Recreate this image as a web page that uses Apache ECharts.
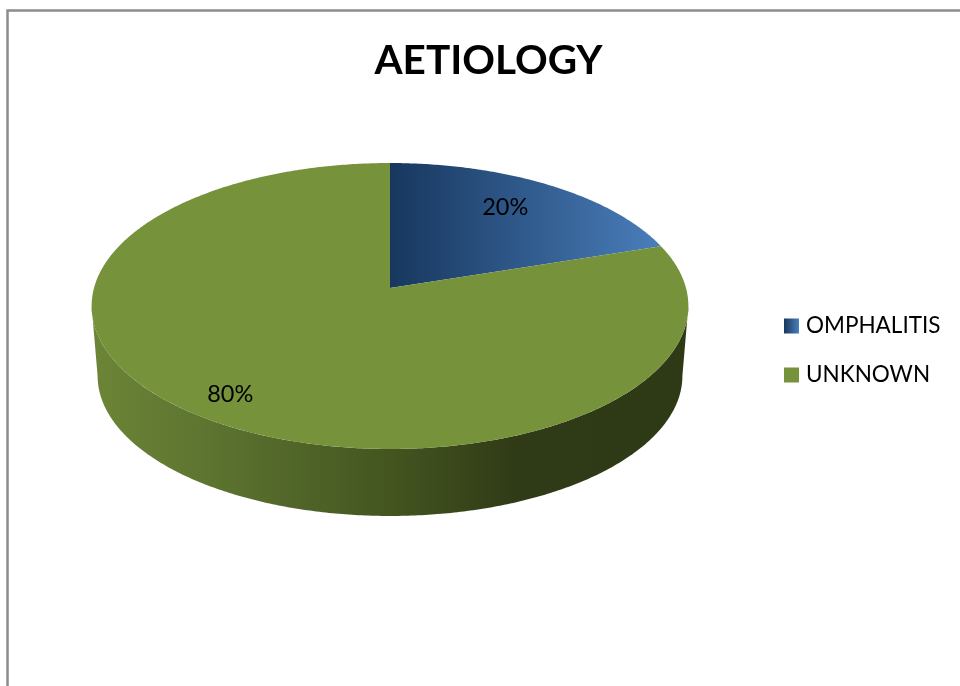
<!DOCTYPE html>
<html>
<head>
<meta charset="utf-8">
<style>html,body{margin:0;padding:0;background:#fff}#c{width:960px;height:686px}</style>
<script src="https://cdn.jsdelivr.net/npm/echarts@6/dist/echarts.min.js"></script>
</head>
<body>
<div id="c"></div>
<script>
const titleText = 'AETIOLOGY';
const categories = ['OMPHALITIS', 'UNKNOWN'];
const values = [20, 80];

const FONT = 'Lato, Carlito, "Open Sans", sans-serif';
// Tilted-disc projection (apex, axes, perspective, extrusion)
const cx = 390, cy = 288, bx = 296, ay = 140.7, k = 0.1259;
const depth = { scale: 0.98, drop: 70.2 };
const labelPlace = [{ r: 0.71, dy: -5 }, { r: 0.84, dy: 2 }];

const total = values.reduce((a, b) => a + b, 0);
const TAU = Math.PI * 2;
function proj(theta, r) {
  const X = Math.sin(theta) * r, Y = Math.cos(theta) * r, d = 1 + k * Y;
  return [cx + bx * X / d, cy - ay * Y / d];
}
function lower(p) {
  return [cx + depth.scale * (p[0] - cx), cy + depth.drop + depth.scale * (p[1] - cy)];
}
function arc(a0, a1) {
  const n = Math.max(2, Math.ceil((a1 - a0) / 0.01)), pts = [];
  for (let i = 0; i <= n; i++) pts.push(proj(a0 + (a1 - a0) * i / n, 1));
  return pts;
}
const visFrom = Math.acos(-k), visTo = TAU - visFrom;

const topFills = [
  { type: 'linear', x: cx, y: 0, x2: cx + 272, y2: 0, global: true,
    colorStops: [{ offset: 0, color: '#17375e' }, { offset: 1, color: '#4a7ebb' }] },
  '#76923b'
];
const legendFills = [
  { type: 'linear', x: 0, y: 0, x2: 1, y2: 0,
    colorStops: [{ offset: 0, color: '#17375e' }, { offset: 1, color: '#4a7ebb' }] },
  '#76923b'
];
const sideFill = { type: 'linear', x: 91, y: 0, x2: 688, y2: 0, global: true,
  colorStops: [
    { offset: 0, color: '#6c8536' }, { offset: 0.2, color: '#5c7430' },
    { offset: 0.5, color: '#445520' }, { offset: 0.72, color: '#2f3a16' },
    { offset: 1, color: '#2e3915' }] };

function makeRender(idx) {
  return function (params, api) {
    const v = api.value(0);
    const before = values.slice(0, idx).reduce((a, b) => a + b, 0);
    const a0 = before / total * TAU, a1 = a0 + v / total * TAU;
    const children = [];
    const s0 = Math.max(a0, visFrom), s1 = Math.min(a1, visTo);
    if (s1 > s0) {
      const upper = arc(s0, s1);
      children.push({ type: 'polygon', shape: { points: upper.concat(upper.map(lower).reverse()) },
        style: { fill: sideFill } });
    }
    children.push({ type: 'polygon', shape: { points: [[cx, cy]].concat(arc(a0, a1)) },
      style: { fill: topFills[idx] } });
    const mid = (a0 + a1) / 2, pl = labelPlace[idx], lp = proj(mid, pl.r);
    children.push({ type: 'text', z2: 10, style: {
      text: Math.round(v / total * 100) + '%', x: lp[0], y: lp[1] + pl.dy,
      align: 'center', verticalAlign: 'middle', fill: '#000', fontFamily: FONT, fontSize: 23.5 } });
    return { type: 'group', children };
  };
}

const chart = echarts.init(document.getElementById('c'), null, { renderer: 'canvas' });
chart.setOption({
  animation: false,
  backgroundColor: '#fff',
  title: { text: titleText, left: 483.5, top: 35, textAlign: 'center',
    textStyle: { fontFamily: FONT, fontWeight: 'bold', fontSize: 40.5, color: '#000' } },
  legend: {
    orient: 'vertical', left: 784, top: 314.5, itemWidth: 15, itemHeight: 15, itemGap: 26,
    icon: 'rect', textStyle: { fontFamily: FONT, fontSize: 22.5, lineHeight: 15, color: '#000', padding: [0, 0, 0, 2] },
    padding: 0,
    data: categories.map((name, i) => ({ name, icon: 'rect', itemStyle: { color: legendFills[i] } }))
  },
  graphic: [{ type: 'rect', silent: true, shape: { x: 7.5, y: 10.5, width: 1000, height: 800 },
    style: { fill: 'none', stroke: '#8c8c8c', lineWidth: 2.5 }, z: -1 }],
  series: categories.map((name, i) => ({
    type: 'custom', name, coordinateSystem: 'none', silent: true, clip: false,
    itemStyle: { color: legendFills[i] },
    renderItem: makeRender(i), data: [[values[i]]]
  }))
});
</script>
</body>
</html>
